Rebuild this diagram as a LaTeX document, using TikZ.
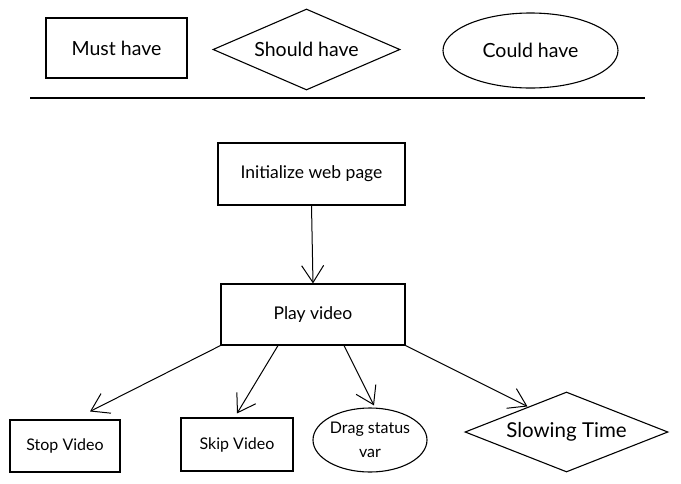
\documentclass[tikz,border=0pt]{standalone}
\usepackage{fontspec}
\setmainfont{Lato}
\usetikzlibrary{shapes.geometric,arrows.meta}
\begin{document}
\begin{tikzpicture}[x=1pt,y=-1pt,
  every node/.style={line width=1.1pt, inner sep=0pt, align=center},
  boxnode/.style={draw, rectangle},
  ellnode/.style={draw, ellipse},
  dianode/.style={draw, diamond, aspect=2.3},
  arr/.style={line width=1pt, -{Straight Barb[length=17pt,width=22pt,line width=1pt]}},
  big/.style={font=\fontsize{19.5}{22}\selectfont},
  mid/.style={font=\fontsize{17.5}{20}\selectfont},
  small/.style={font=\fontsize{16}{19}\selectfont},
  huge/.style={font=\fontsize{20.5}{24}\selectfont}]
\useasboundingbox (0,0) rectangle (681,483);
% legend
\node[boxnode, big, minimum width=141pt, minimum height=60pt] (must) at (116.5,48) {Must have};
\node[dianode, big, minimum width=187pt, minimum height=81pt] (should) at (306.5,49.5) {Should have};
\node[ellnode, big, minimum width=175pt, minimum height=75pt] (could) at (530.5,50.5) {Could have};
\coordinate (hl) at (30,98);
\coordinate (hr) at (645,98);
\draw[line width=1.5pt] (hl) -- (hr);
% flow
\node[boxnode, mid, minimum width=187pt, minimum height=62pt] (init) at (311.5,174) {Initialize web page};
\node[boxnode, mid, minimum width=184pt, minimum height=61pt] (play) at (313,314.5) {Play video};
\node[boxnode, small, minimum width=110pt, minimum height=52pt] (stop) at (65,446) {Stop Video};
\node[boxnode, small, minimum width=112pt, minimum height=53pt] (skip) at (237,444.5) {Skip Video};
\node[ellnode, small, minimum width=114pt, minimum height=64pt] (drag) at (370,440) {Drag status\\[5pt]var};
\node[dianode, huge, minimum width=203pt, minimum height=80pt] (slow) at (566.5,432) {Slowing Time};
\draw[arr] (init.south) -- (play.north);
\draw[arr] (play.south west) -- ([xshift=25pt,yshift=8pt]stop.north);
\draw[arr] ([xshift=-35pt]play.south) -- ([yshift=4pt]skip.north);
\draw[arr] ([xshift=31pt]play.south) -- ([xshift=4pt,yshift=2pt]drag.north);
\draw[arr] (play.south east) -- ([xshift=-39pt,yshift=-15pt]slow.north);
\end{tikzpicture}
\end{document}
